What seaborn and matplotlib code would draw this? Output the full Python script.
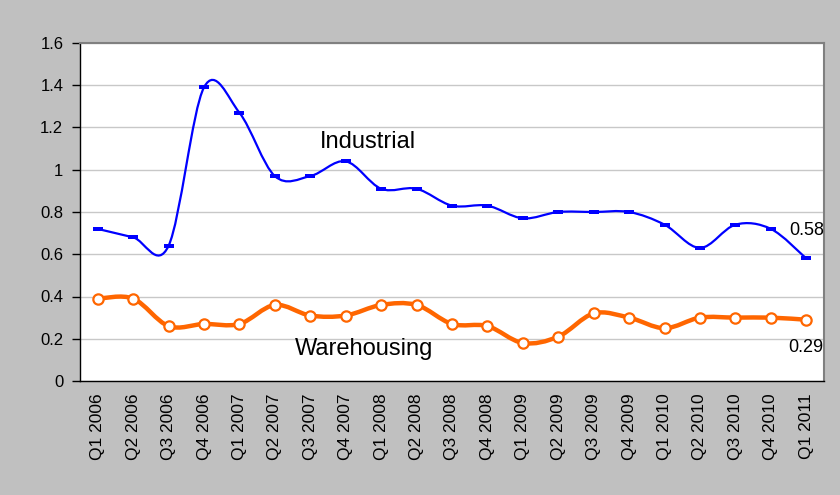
import matplotlib
matplotlib.use('Agg')
import numpy as np
import pandas as pd
import matplotlib.pyplot as plt
import seaborn as sns
from matplotlib.path import Path
from matplotlib.patches import PathPatch

sns.set_style('white')
plt.rcParams['font.family'] = ['Liberation Sans', 'DejaVu Sans']
plt.rcParams['text.color'] = 'black'
plt.rcParams['xtick.color'] = 'black'
plt.rcParams['ytick.color'] = 'black'

quarters = ['Q1 2006', 'Q2 2006', 'Q3 2006', 'Q4 2006', 'Q1 2007', 'Q2 2007', 'Q3 2007',
            'Q4 2007', 'Q1 2008', 'Q2 2008', 'Q3 2008', 'Q4 2008', 'Q1 2009', 'Q2 2009',
            'Q3 2009', 'Q4 2009', 'Q1 2010', 'Q2 2010', 'Q3 2010', 'Q4 2010', 'Q1 2011']
industrial = [0.72, 0.68, 0.64, 1.39, 1.27, 0.97, 0.97, 1.04, 0.91, 0.91, 0.83,
              0.83, 0.77, 0.80, 0.80, 0.80, 0.74, 0.63, 0.74, 0.72, 0.58]
warehousing = [0.39, 0.39, 0.26, 0.27, 0.27, 0.36, 0.31, 0.31, 0.36, 0.36, 0.27,
               0.26, 0.18, 0.21, 0.32, 0.30, 0.25, 0.30, 0.30, 0.30, 0.29]

df = pd.DataFrame({'quarter': quarters, 'x': np.arange(len(quarters)),
                   'Industrial': industrial, 'Warehousing': warehousing})

BLUE = '#0000FF'
ORANGE = '#FF6600'


def smooth_patch(x, y, color, lw):
    # Excel-style smoothed line, drawn as bezier segments through the points
    pts = np.column_stack([x, y]).astype(float)
    n = len(pts)
    verts = [pts[0]]
    codes = [Path.MOVETO]
    for i in range(n - 1):
        p0 = pts[i - 1] if i > 0 else pts[i]
        p1 = pts[i]
        p2 = pts[i + 1]
        p3 = pts[i + 2] if i + 2 < n else pts[i + 1]
        c1 = p1 + (p2 - p0) / 6.0
        c2 = p2 - (p3 - p1) / 6.0
        verts += [c1, c2, p2]
        codes += [Path.CURVE4] * 3
    return PathPatch(Path(verts, codes), facecolor='none', edgecolor=color,
                     lw=lw, capstyle='round', joinstyle='round', zorder=3)


fig = plt.figure(figsize=(8.4, 4.95), dpi=100, facecolor='#C0C0C0')
ax = fig.add_axes([80 / 840, 1 - 381 / 495, 744 / 840, 338 / 495])
ax.set_facecolor('white')

ax.add_patch(smooth_patch(df['x'], df['Industrial'], BLUE, 1.6))
ax.add_patch(smooth_patch(df['x'], df['Warehousing'], ORANGE, 3.2))

dash = [(-1, -0.35), (1, -0.35), (1, 0.35), (-1, 0.35)]
sns.scatterplot(x='x', y='Industrial', data=df, marker=dash, s=45, color=BLUE,
                edgecolor=BLUE, linewidth=0, ax=ax, zorder=4)
sns.scatterplot(x='x', y='Warehousing', data=df, marker='o', s=55, facecolor='white',
                edgecolor=ORANGE, linewidth=1.6, ax=ax, zorder=4)

ax.set_xlim(-0.5, len(quarters) - 0.5)
ax.set_ylim(0, 1.6)
ax.set_yticks(np.arange(0, 1.61, 0.2))
ax.set_yticklabels(['0', '0.2', '0.4', '0.6', '0.8', '1', '1.2', '1.4', '1.6'], fontsize=12)
ax.set_xticks(df['x'])
ax.set_xticklabels(quarters, rotation=90, fontsize=12.5)
ax.set_xticks(np.arange(-0.5, len(quarters), 1), minor=True)
ax.tick_params(axis='x', which='major', length=0, pad=9)
ax.tick_params(axis='x', which='minor', length=6, width=1, color='black', direction='out')
ax.tick_params(axis='y', length=6, width=1, color='black', direction='out', left=True, pad=6)
ax.set_xlabel('')
ax.set_ylabel('')
ax.yaxis.grid(True, color='#C8C8C8', lw=1)
ax.set_axisbelow(True)

for s in ['left', 'bottom']:
    ax.spines[s].set_color('black')
    ax.spines[s].set_linewidth(1)
for s in ['top', 'right']:
    ax.spines[s].set_color('#808080')
    ax.spines[s].set_linewidth(1.5)

ax.text(7.62, 1.131, 'Industrial', fontsize=17, ha='center', va='center')
ax.text(7.51, 0.151, 'Warehousing', fontsize=17, ha='center', va='center')

last = len(quarters) - 1
ax.annotate(f"{industrial[-1]:.2f}", (last, industrial[-1]), xytext=(0, 28),
            textcoords='offset pixels', ha='center', va='center', fontsize=13)
ax.annotate(f"{warehousing[-1]:.2f}", (last, warehousing[-1]), xytext=(0, -28),
            textcoords='offset pixels', ha='center', va='center', fontsize=13)

fig.savefig('out.png', dpi=100, facecolor=fig.get_facecolor())
